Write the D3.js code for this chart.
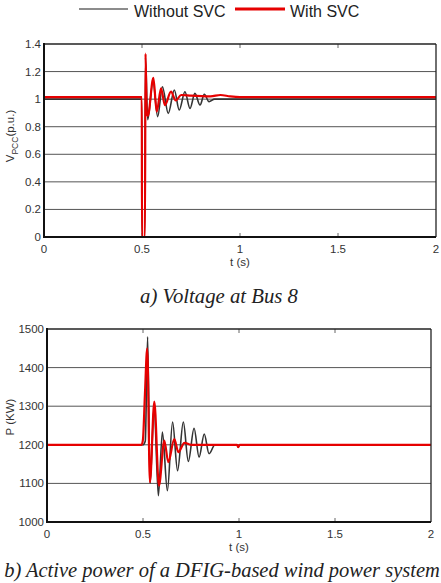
<!DOCTYPE html>
<html><head><meta charset="utf-8">
<script src="https://cdn.jsdelivr.net/npm/d3@7"></script>
<style>body{margin:0;background:#fff}svg{display:block}</style>
</head><body>
<svg id="c" width="441" height="583"></svg>
<script>
// ---- data ----
const xTicks = [0, 0.5, 1, 1.5, 2];
const xTickLabels = ["0", "0.5", "1", "1.5", "2"];
const vTicks = [0, 0.2, 0.4, 0.6, 0.8, 1, 1.2, 1.4];
const vTickLabels = ["0", "0.2", "0.4", "0.6", "0.8", "1", "1.2", "1.4"];
const pTicks = [1000, 1100, 1200, 1300, 1400, 1500];
const pTickLabels = ["1000", "1100", "1200", "1300", "1400", "1500"];
const seriesNames = ["Without SVC", "With SVC"];

// Voltage at Bus 8, without SVC
const tVWithout = [0, 0.499, 0.5, 0.514, 0.518, 0.529, 0.556, 0.58, 0.604, 0.634, 0.665, 0.690, 0.719, 0.745, 0.770, 0.796, 0.818, 0.842, 0.87, 0.9, 2.0];
const vWithout  = [1.0, 1.0, 0, 0, 1.30, 0.85, 1.13, 0.873, 1.09, 0.897, 1.066, 0.921, 1.054, 0.933, 1.042, 0.957, 1.035, 0.981, 1.0, 1.0, 1.0];
// Voltage at Bus 8, with SVC
const tVWith = [0, 0.499, 0.5, 0.515, 0.518, 0.524, 0.530, 0.558, 0.575, 0.597, 0.617, 0.648, 0.672, 0.70, 0.75, 0.85, 0.9, 0.95, 1.0, 2.0];
const vWith  = [1.015, 1.015, 0, 0, 1.33, 0.90, 0.88, 1.155, 0.909, 1.078, 0.957, 1.054, 0.99, 1.03, 1.025, 1.02, 1.03, 1.02, 1.015, 1.015];

// Active power, without SVC
const tPWithout = [0, 0.5, 0.512, 0.524, 0.537, 0.558, 0.580, 0.601, 0.627, 0.654, 0.680, 0.710, 0.736, 0.766, 0.792, 0.819, 0.844, 0.875, 0.99, 0.996, 1.003, 2.0];
const pWithout  = [1200, 1200, 1210, 1480, 1100, 1300, 1068, 1233, 1081, 1259, 1133, 1259, 1157, 1243, 1168, 1228, 1177, 1200, 1200, 1194, 1200, 1200];
// Active power, with SVC
const tPWith = [0, 0.493, 0.50, 0.51, 0.522, 0.536, 0.559, 0.583, 0.611, 0.632, 0.663, 0.684, 0.716, 0.75, 0.99, 0.996, 1.003, 2.0];
const pWith  = [1200, 1200, 1215, 1330, 1450, 1103, 1312, 1094, 1211, 1155, 1215, 1181, 1205, 1200, 1200, 1194, 1200, 1200];

// ---- drawing ----
const svg = d3.select("#c");
const FONT = "Liberation Sans, Arial, sans-serif";
const BLACK = "#333", RED = "#e60000", GRID = "#555";

function panel(cfg) {
  const x = d3.scaleLinear().domain([0, 2]).range([cfg.x0, cfg.x1]);
  const y = d3.scaleLinear().domain(cfg.domain).range([cfg.y0, cfg.y1]);
  const g = svg.append("g");
  g.selectAll(".grid").data(cfg.yTicks.slice(1, -1)).enter().append("line")
    .attr("x1", cfg.x0).attr("x2", cfg.x1)
    .attr("y1", d => y(d)).attr("y2", d => y(d))
    .attr("stroke", GRID).attr("stroke-width", 1);
  const inner = xTicks.slice(1, -1);
  g.selectAll(".tb").data(inner).enter().append("line")
    .attr("x1", d => x(d)).attr("x2", d => x(d))
    .attr("y1", cfg.y0).attr("y2", cfg.y0 - 4).attr("stroke", "#666");
  g.selectAll(".tt").data(inner).enter().append("line")
    .attr("x1", d => x(d)).attr("x2", d => x(d))
    .attr("y1", cfg.y1).attr("y2", cfg.y1 + 4).attr("stroke", "#666");
  const line = d3.line().x(d => x(d[0])).y(d => y(d[1])).curve(d3.curveMonotoneX);
  g.append("path").datum(d3.zip(cfg.tA, cfg.vA)).attr("d", line)
    .attr("fill", "none").attr("stroke", BLACK).attr("stroke-width", 1.6);
  g.append("path").datum(d3.zip(cfg.tB, cfg.vB)).attr("d", line)
    .attr("fill", "none").attr("stroke", RED).attr("stroke-width", 2.2);
  g.append("line").attr("x1", cfg.x0).attr("x2", cfg.x1).attr("y1", cfg.y1).attr("y2", cfg.y1).attr("stroke", "#222").attr("stroke-width", 1.3);
  g.append("line").attr("x1", cfg.x1).attr("x2", cfg.x1).attr("y1", cfg.y1).attr("y2", cfg.y0).attr("stroke", "#222").attr("stroke-width", 1.3);
  g.append("line").attr("x1", cfg.x0).attr("x2", cfg.x1).attr("y1", cfg.y0).attr("y2", cfg.y0).attr("stroke", "#111").attr("stroke-width", 2);
  g.append("line").attr("x1", cfg.x0).attr("x2", cfg.x0).attr("y1", cfg.y1 - 1).attr("y2", cfg.y0 + 1).attr("stroke", "#111").attr("stroke-width", 2);
  g.selectAll(".yl").data(cfg.yTicks).enter().append("text")
    .attr("x", cfg.x0 - 3).attr("y", d => y(d) + 4)
    .attr("text-anchor", "end").attr("font-family", FONT).attr("font-size", 11.5).attr("fill", "#333")
    .text((d, i) => cfg.yLabels[i]);
  g.selectAll(".xl").data(xTicks).enter().append("text")
    .attr("x", d => x(d)).attr("y", cfg.y0 + 16)
    .attr("text-anchor", "middle").attr("font-family", FONT).attr("font-size", 11.5).attr("fill", "#333")
    .text((d, i) => xTickLabels[i]);
  g.append("text").attr("x", x(1)).attr("y", cfg.y0 + 29)
    .attr("text-anchor", "middle").attr("font-family", FONT).attr("font-size", 11.5).attr("fill", "#333")
    .text("t (s)");
  return g;
}

panel({x0: 44, x1: 436, y0: 237, y1: 44, domain: [0, 1.4], yTicks: vTicks, yLabels: vTickLabels,
  tA: tVWithout, vA: vWithout, tB: tVWith, vB: vWith});
panel({x0: 47, x1: 431, y0: 522, y1: 329, domain: [1000, 1500], yTicks: pTicks, yLabels: pTickLabels,
  tA: tPWithout, vA: pWithout, tB: tPWith, vB: pWith});

const ya = svg.append("text").attr("transform", "translate(14,136) rotate(-90)")
  .attr("text-anchor", "middle").attr("font-family", FONT).attr("font-size", 11.5).attr("fill", "#333");
ya.append("tspan").text("V");
ya.append("tspan").attr("font-size", 8.5).attr("dy", 3.5).text("PCC");
ya.append("tspan").attr("dy", -3.5).text("(p.u.)");
svg.append("text").attr("transform", "translate(14,417) rotate(-90)")
  .attr("text-anchor", "middle").attr("font-family", FONT).attr("font-size", 11.5).attr("fill", "#333")
  .text("P (KW)");

svg.append("line").attr("x1", 79).attr("x2", 128).attr("y1", 9).attr("y2", 9).attr("stroke", "#666").attr("stroke-width", 1.5);
svg.append("text").attr("x", 134).attr("y", 16.5).attr("font-family", FONT).attr("font-size", 16).attr("fill", "#222").text(seriesNames[0]);
svg.append("line").attr("x1", 235).attr("x2", 285).attr("y1", 9).attr("y2", 9).attr("stroke", RED).attr("stroke-width", 3);
svg.append("text").attr("x", 290).attr("y", 16.5).attr("font-family", FONT).attr("font-size", 16).attr("fill", "#222").text(seriesNames[1]);

function caption(txt, cx, yb, w) {
  const t = svg.append("text").attr("x", cx).attr("y", yb).attr("text-anchor", "middle")
    .attr("font-family", "Liberation Serif, Times New Roman, serif").attr("font-style", "italic")
    .attr("font-size", 20).attr("fill", "#222").text(txt);
  const len = t.node().getComputedTextLength();
  t.attr("font-size", 20 * w / len);
}
caption("a) Voltage at Bus 8", 219, 303, 158);
caption("b) Active power of a DFIG-based wind power system", 222, 577, 436);
</script>
</body></html>
